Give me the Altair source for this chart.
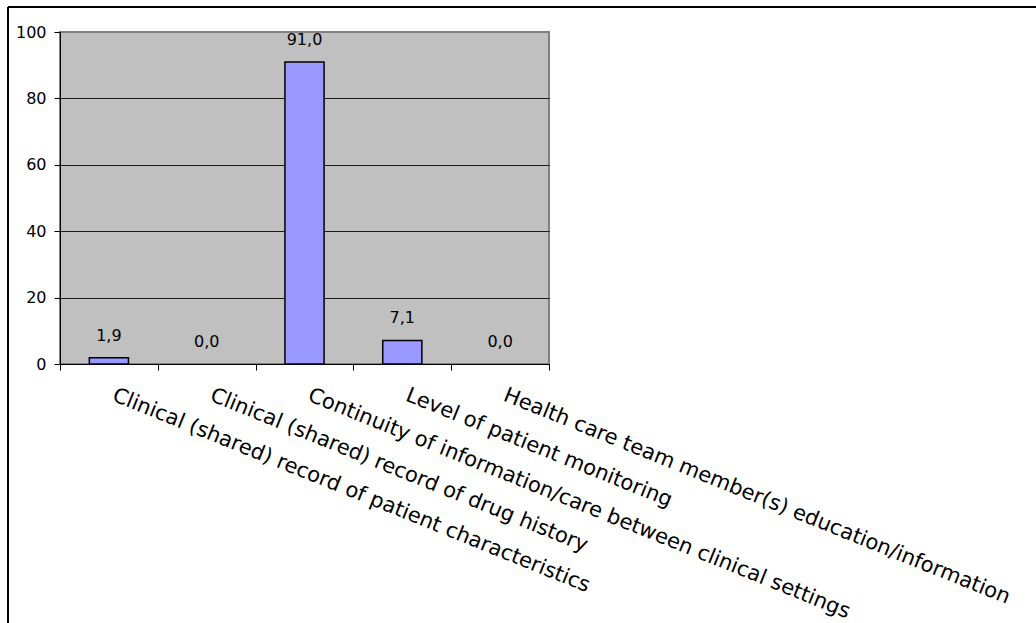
import json
import altair as alt
import pandas as pd

# Share of responses per area of improvement (%)
categories = [
    "Clinical (shared) record of patient characteristics",
    "Clinical (shared) record of drug history",
    "Continuity of information/care between clinical settings",
    "Level of patient monitoring",
    "Health care team member(s) education/information",
]
values = [1.9, 0.0, 91.0, 7.1, 0.0]
y_ticks = [0, 20, 40, 60, 80, 100]

df = pd.DataFrame({"category": categories, "value": values, "idx": list(range(len(categories)))})

FONT = "DejaVu Sans"
W, H = 489, 332

names_js = json.dumps(categories)

x_scale = alt.Scale(domain=[0, len(categories)], nice=False, zero=False)
y_scale = alt.Scale(domain=[0, 100], nice=False)

x_axis = alt.Axis(
    values=list(range(len(categories) + 1)),
    labelExpr=f"datum.value < {len(categories)} ? {names_js}[datum.value] : ''",
    labelAngle=22,
    labelAlign="left",
    labelBaseline="top",
    labelOffset=57,
    labelPadding=14,
    labelFontSize=21,
    labelFont=FONT,
    labelColor="black",
    labelOverlap=False,
    labelFlush=False,
    labelBound=False,
    labelLimit=1000,
    tickSize=6,
    tickColor="black",
    domainColor="black",
    grid=False,
    title=None,
)

y_axis = alt.Axis(
    values=y_ticks,
    labelFontSize=16,
    labelFont=FONT,
    labelColor="black",
    labelPadding=8,
    tickSize=6,
    tickColor="black",
    domainColor="black",
    gridColor={"condition": {"test": "datum.value === 100", "value": "#808080"}, "value": "#1a1a1a"},
    gridWidth=1,
    title=None,
)

base = alt.Chart(df).transform_calculate(
    x0="datum.idx + 0.3",
    x1="datum.idx + 0.7",
    xc="datum.idx + 0.5",
    label="replace(format(datum.value, '.1f'), '.', ',')",
)

bars = base.mark_bar(color="#9999FF", stroke="black", strokeWidth=1.5).encode(
    x=alt.X("x0:Q", scale=x_scale, axis=x_axis),
    x2="x1:Q",
    y=alt.Y("value:Q", scale=y_scale, axis=y_axis),
    y2=alt.datum(0),
    strokeOpacity=alt.condition("datum.value > 0", alt.value(1), alt.value(0)),
)

labels = base.mark_text(
    font=FONT, fontSize=16, color="black", baseline="alphabetic", dy=-17
).encode(
    x=alt.X("xc:Q", scale=x_scale),
    y=alt.Y("value:Q", scale=y_scale),
    text="label:N",
)

# frame lines along the top and left of the figure
frame_top = alt.Chart(df).mark_rule(color="black", strokeWidth=2).encode(
    x=alt.value(-52), x2=alt.value(1036 - 60), y=alt.value(-25)
)
frame_left = alt.Chart(df).mark_rule(color="black", strokeWidth=2).encode(
    x=alt.value(-52), y=alt.value(-25), y2=alt.value(623 - 32)
)

chart = (
    alt.layer(bars, labels, frame_top, frame_left)
    .properties(
        width=W,
        height=H,
        autosize=alt.AutoSizeParams(type="none"),
        padding={"left": 60, "top": 32, "right": 1036 - 60 - W, "bottom": 623 - 32 - H},
        background="white",
    )
    .configure_view(fill="#C0C0C0", stroke="#808080", strokeWidth=2)
)

chart.save("out.html", embed_options={"renderer": "svg", "actions": False})
